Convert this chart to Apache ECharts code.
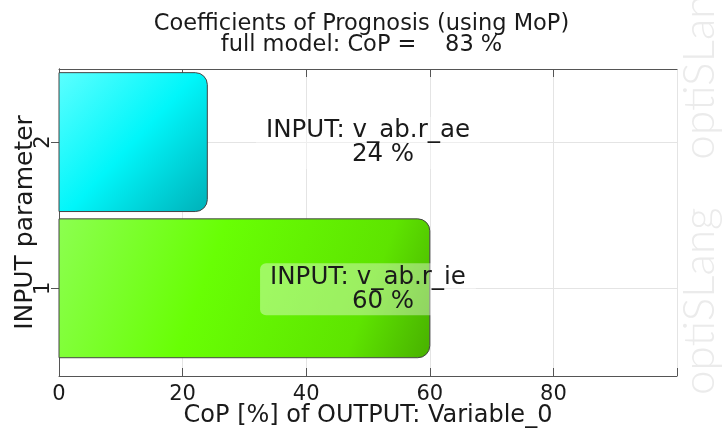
<!DOCTYPE html>
<html><head><meta charset="utf-8">
<script src="https://cdn.jsdelivr.net/npm/echarts@6/dist/echarts.min.js"></script>
<style>html,body{margin:0;padding:0;background:#fff}#c{width:723px;height:430px}</style>
</head><body><div id="c"></div>
<script>
const paramIndex = [1, 2];
const paramNames = ['INPUT: v_ab.r_ie', 'INPUT: v_ab.r_ae'];
const copValues = [60, 24];
const xTicks = [0, 20, 40, 60, 80];
const yTicks = [1, 2];
const fullCoP = 83;

const FONT = 'DejaVu Sans';
const TXT = '#1a1a1a';
const gradients = [
  new echarts.graphic.LinearGradient(0, 0, 1, 1, [{offset:0,color:'#8cff50'},{offset:0.4,color:'#68ff04'},{offset:0.8,color:'#5ee400'},{offset:1,color:'#48b000'}]),
  new echarts.graphic.LinearGradient(0, 0, 1, 1, [{offset:0,color:'#5cffff'},{offset:0.5,color:'#00f6fa'},{offset:1,color:'#00b0b8'}])
];
const half = 0.475;
const chart = echarts.init(document.getElementById('c'));
const axisCommon = {
  axisLine:{show:true,lineStyle:{color:'#555',width:1}},
  axisTick:{show:true,inside:true,length:8,lineStyle:{color:'#555'}},
};
chart.setOption({
  animation:false,
  title:{text:'Coefficients of Prognosis (using MoP)\nfull model: CoP =    ' + fullCoP + ' %',left:'center',top:9,
    textStyle:{fontFamily:FONT,fontSize:22.5,fontWeight:'normal',color:TXT,lineHeight:21}},
  grid:{left:59,right:46,top:69,bottom:54,containLabel:false,outerBoundsMode:'none'},
  xAxis:[{type:'value',min:0,max:100,interval:20,position:'bottom',...axisCommon,
    axisLabel:{fontFamily:FONT,fontSize:21,color:TXT,margin:8,customValues:xTicks},
    splitLine:{show:true,lineStyle:{color:'#e4e4e4'}},
    name:'CoP [%] of OUTPUT: Variable_0',nameLocation:'middle',nameGap:28,nameMoveOverlap:false,
    nameTextStyle:{fontFamily:FONT,fontSize:24,color:TXT}},
   {type:'value',min:0,max:100,interval:20,position:'top',...axisCommon,axisLabel:{show:false},splitLine:{show:false},
    axisTick:{show:true,inside:true,length:8,lineStyle:{color:'#555'},customValues:xTicks}}],
  yAxis:[{type:'value',min:0.4,max:2.5,position:'left',...axisCommon,
    axisTick:{show:true,inside:true,length:8,lineStyle:{color:'#555'},customValues:yTicks},
    axisLabel:{fontFamily:FONT,fontSize:21,color:TXT,rotate:90,margin:5,customValues:yTicks},
    splitLine:{show:true,lineStyle:{color:'#e4e4e4'}},
    name:'INPUT parameter',nameLocation:'middle',nameGap:21,nameRotate:90,nameMoveOverlap:false,
    nameTextStyle:{fontFamily:FONT,fontSize:25,color:TXT}},
   {type:'value',min:0.4,max:2.5,position:'right',...axisCommon,axisLabel:{show:false},splitLine:{show:false},
    axisTick:{show:true,inside:true,length:8,lineStyle:{color:'#555'},customValues:yTicks}}],
  series:[
    {type:'custom',xAxisIndex:0,yAxisIndex:0,
     data:copValues.map((v,i)=>[v,paramIndex[i]]),
     renderItem:function(params,api){
       const v=api.value(0), c=api.value(1);
       const p0=api.coord([0,c+half]), p1=api.coord([v,c-half]);
       return {type:'rect',shape:{x:p0[0],y:p0[1],width:p1[0]-p0[0],height:p1[1]-p0[1],r:[0,12,12,0]},
         style:{fill:gradients[params.dataIndex],stroke:'#444',lineWidth:1}};
     }},
    {type:'scatter',xAxisIndex:0,yAxisIndex:0,symbolSize:0,silent:true,itemStyle:{opacity:1},
     data:copValues.map((v,i)=>({value:[50,paramIndex[i]],name:paramNames[i]})),
     label:{show:true,position:'inside',offset:[0,1],color:TXT,opacity:1,
       formatter:function(p){return '{a|'+p.name+'}\n{b|'+copValues[p.dataIndex]+' %}';},
       backgroundColor:'rgba(255,255,255,0.38)',padding:[2,10,2,10],borderRadius:6,
       rich:{a:{fontFamily:FONT,fontSize:24.5,color:TXT,lineHeight:24},b:{fontFamily:FONT,fontSize:24.5,color:TXT,lineHeight:24,padding:[0,0,0,30]}}}}
  ],
  graphic:[{type:'text',x:722,y:395,rotation:Math.PI/2,
    style:{text:'optiSLang    optiSLang',fontFamily:'Lato',fontWeight:300,fontSize:44,fill:'#ebebeb',textVerticalAlign:'bottom'},z:-1,silent:true}]
});
</script></body></html>
